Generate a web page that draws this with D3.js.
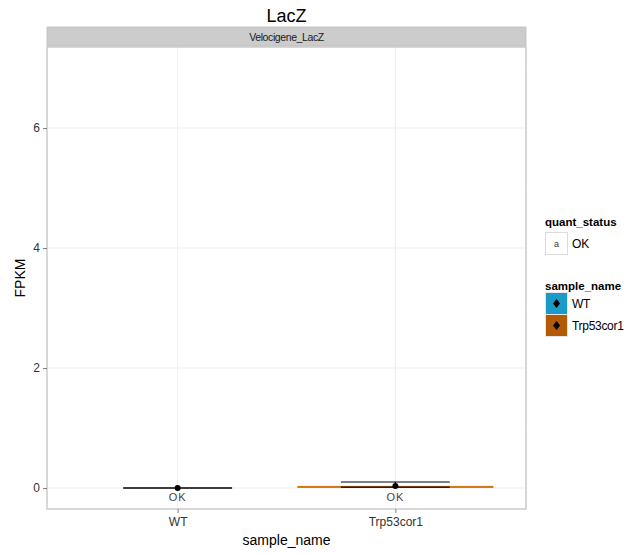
<!DOCTYPE html>
<html>
<head>
<meta charset="UTF-8">
<title>LacZ</title>
<script src="https://d3js.org/d3.v7.min.js"></script>
<style>
  body { margin: 0; background: #fff; font-family: "Liberation Sans", Arial, sans-serif; }
  svg { display: block; }
</style>
</head>
<body>
<div id="chart"></div>
<script>
  // data
  const samples = ["WT", "Trp53cor1"];
  const fpkm = [0, 0.035];
  const confLo = [0, 0.015];
  const confHi = [0, 0.1];
  const quantStatus = ["OK", "OK"];
  const yTicks = [0, 2, 4, 6];
  const sampleColors = ["#1b9ac8", "#b35a06"];
  const barColors = ["#1b9ac8", "#d47a12"];

  const width = 631, height = 554;
  const margin = { top: 47, right: 105, bottom: 45, left: 47 };

  const svg = d3.select("#chart").append("svg")
    .attr("width", width).attr("height", height);

  const x = d3.scaleLinear().domain([0.4, 2.6]).range([margin.left, width - margin.right]);
  const y = d3.scaleLinear().domain([-0.35, 7.35]).range([height - margin.bottom, margin.top]);

  const x0 = margin.left, x1 = width - margin.right;
  const yTop = margin.top, yBot = height - margin.bottom;

  // panel background + grid
  svg.append("rect").attr("x", x0).attr("y", yTop).attr("width", x1 - x0).attr("height", yBot - yTop)
    .attr("fill", "#fff");
  const minor = [1, 3, 5, 7];
  svg.selectAll(".ygmin").data(minor).enter().append("line")
    .attr("x1", x0).attr("x2", x1).attr("y1", d => y(d)).attr("y2", d => y(d))
    .attr("stroke", "#fafafa").attr("stroke-width", 0.6);
  svg.selectAll(".ygmaj").data(yTicks).enter().append("line")
    .attr("x1", x0).attr("x2", x1).attr("y1", d => y(d)).attr("y2", d => y(d))
    .attr("stroke", "#ebebeb").attr("stroke-width", 0.8);
  svg.selectAll(".xg").data(samples).enter().append("line")
    .attr("x1", (d, i) => x(i + 1)).attr("x2", (d, i) => x(i + 1)).attr("y1", yTop).attr("y2", yBot)
    .attr("stroke", "#ebebeb").attr("stroke-width", 0.8);

  // bars (width 0.9)
  svg.selectAll(".bar").data(samples).enter().append("rect")
    .attr("x", (d, i) => x(i + 1 - 0.45))
    .attr("width", x(1.45) - x(0.55))
    .attr("y", (d, i) => y(fpkm[i]))
    .attr("height", (d, i) => Math.max(0, y(0) - y(fpkm[i])))
    .attr("fill", (d, i) => barColors[i]);

  // error bars (width 0.5)
  const eb = svg.selectAll(".eb").data(samples).enter().append("g");
  eb.append("line")
    .attr("x1", (d, i) => x(i + 0.75)).attr("x2", (d, i) => x(i + 1.25))
    .attr("y1", (d, i) => y(confHi[i])).attr("y2", (d, i) => y(confHi[i]))
    .attr("stroke", "#000").attr("stroke-width", 1.2);
  eb.append("line")
    .attr("x1", (d, i) => x(i + 0.75)).attr("x2", (d, i) => x(i + 1.25))
    .attr("y1", (d, i) => y(confLo[i])).attr("y2", (d, i) => y(confLo[i]))
    .attr("stroke", "#000").attr("stroke-width", 1.2);
  eb.append("line")
    .attr("x1", (d, i) => x(i + 1)).attr("x2", (d, i) => x(i + 1))
    .attr("y1", (d, i) => y(confHi[i])).attr("y2", (d, i) => y(confLo[i]))
    .attr("stroke", "#000").attr("stroke-width", 1.2);

  // points
  svg.selectAll(".pt").data(samples).enter().append("circle")
    .attr("cx", (d, i) => x(i + 1)).attr("cy", (d, i) => y(fpkm[i])).attr("r", 3)
    .attr("fill", "#000");

  // quant status labels
  svg.selectAll(".qs").data(quantStatus).enter().append("text")
    .attr("x", (d, i) => x(i + 1)).attr("y", (d, i) => y(0) + 13)
    .attr("text-anchor", "middle").attr("font-size", 11).attr("fill", "#444")
    .attr("letter-spacing", 1).text(d => d);

  // panel border
  svg.append("rect").attr("x", x0).attr("y", yTop).attr("width", x1 - x0).attr("height", yBot - yTop)
    .attr("fill", "none").attr("stroke", "#bdbdbd").attr("stroke-width", 1.2);

  // strip
  svg.append("rect").attr("x", x0).attr("y", 27).attr("width", x1 - x0).attr("height", 19)
    .attr("fill", "#cccccc").attr("stroke", "#bdbdbd").attr("stroke-width", 0.8);
  svg.append("text").attr("x", (x0 + x1) / 2).attr("y", 40.5).attr("text-anchor", "middle")
    .attr("font-size", 10.5).attr("fill", "#1a1a1a").attr("letter-spacing", -0.4).text("Velocigene_LacZ");

  // title
  svg.append("text").attr("x", (x0 + x1) / 2).attr("y", 22).attr("text-anchor", "middle")
    .attr("font-size", 18).attr("fill", "#000").text("LacZ");

  // axes
  const yAxis = svg.append("g").attr("transform", `translate(${x0},0)`)
    .call(d3.axisLeft(y).tickValues(yTicks).tickSize(4).tickPadding(3));
  yAxis.select(".domain").remove();
  yAxis.selectAll("line").attr("stroke", "#7f7f7f");
  yAxis.selectAll("text").attr("font-size", 12).attr("fill", "#333")
    .attr("font-family", "Liberation Sans, Arial, sans-serif");

  const xAxis = svg.append("g").attr("transform", `translate(0,${yBot})`)
    .call(d3.axisBottom(x).tickValues([1, 2]).tickFormat(d => samples[d - 1]).tickSize(4).tickPadding(4));
  xAxis.select(".domain").remove();
  xAxis.selectAll("line").attr("stroke", "#7f7f7f");
  xAxis.selectAll("text").attr("font-size", 12).attr("fill", "#333")
    .attr("font-family", "Liberation Sans, Arial, sans-serif");

  svg.append("text").attr("x", (x0 + x1) / 2).attr("y", 545).attr("text-anchor", "middle")
    .attr("font-size", 14).attr("fill", "#000").text("sample_name");
  svg.append("text").attr("transform", `translate(25,${(yTop + yBot) / 2}) rotate(-90)`)
    .attr("text-anchor", "middle").attr("font-size", 14).attr("fill", "#000").text("FPKM");

  // legends
  const lg = svg.append("g").attr("transform", "translate(545,0)");
  lg.append("text").attr("x", 0).attr("y", 226).attr("font-size", 11.5).attr("font-weight", "bold")
    .text("quant_status");
  lg.append("rect").attr("x", 0.5).attr("y", 232.5).attr("width", 22).attr("height", 22)
    .attr("fill", "#fff").attr("stroke", "#dcdcdc");
  lg.append("text").attr("x", 11.5).attr("y", 247).attr("text-anchor", "middle")
    .attr("font-size", 9).attr("fill", "#333").text("a");
  lg.append("text").attr("x", 27).attr("y", 248).attr("font-size", 12).attr("fill", "#000")
    .text(quantStatus[0]);

  lg.append("text").attr("x", 0).attr("y", 290).attr("font-size", 11.5).attr("font-weight", "bold")
    .text("sample_name");
  const keys = lg.selectAll(".key").data(samples).enter().append("g")
    .attr("transform", (d, i) => `translate(0,${292 + i * 22})`);
  keys.append("rect").attr("x", 0.5).attr("y", 0.5).attr("width", 22).attr("height", 22)
    .attr("fill", (d, i) => sampleColors[i]).attr("stroke", "#e6e6e6");
  keys.append("path").attr("d", "M11.5,7 L15,11.5 L11.5,16 L8,11.5 Z").attr("fill", "#000");
  keys.append("text").attr("x", 27).attr("y", 16).attr("font-size", 12).attr("fill", "#000")
    .attr("letter-spacing", -0.3).text(d => d);
</script>
</body>
</html>
